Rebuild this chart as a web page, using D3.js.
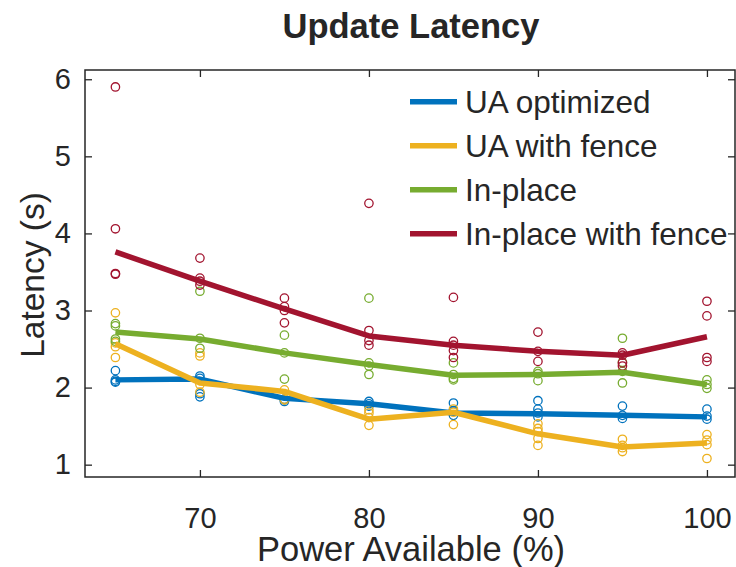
<!DOCTYPE html>
<html>
<head>
<meta charset="utf-8">
<script src="https://cdn.jsdelivr.net/npm/d3@7"></script>
<style>
  html, body { margin: 0; padding: 0; background: #fff; }
  svg { display: block; }
  text { font-family: "Liberation Sans", Arial, sans-serif; fill: #262626; }
</style>
</head>
<body>
<svg id="chart" width="736" height="567"></svg>
<script>
// Power levels tested (%)
const powerLevels = [65, 70, 75, 80, 85, 90, 95, 100];

// Individual run latencies (s), one list per power level
const uaOptimizedRuns = [
  [2.22, 2.10, 2.08, 2.07],
  [2.15, 2.12, 1.92, 1.88],
  [1.85, 1.84, 1.82],
  [1.82, 1.79, 1.76],
  [1.80, 1.70, 1.64],
  [1.83, 1.72, 1.67, 1.62],
  [1.76, 1.64, 1.60],
  [1.72, 1.63, 1.59]
];
const uaFenceRuns = [
  [2.97, 2.58, 2.53, 2.39],
  [2.45, 2.41, 2.04, 1.94],
  [1.97, 1.85, 1.84],
  [1.71, 1.67, 1.61, 1.51],
  [1.72, 1.68, 1.52],
  [1.53, 1.47, 1.43, 1.34, 1.25],
  [1.33, 1.25, 1.22, 1.17],
  [1.39, 1.32, 1.26, 1.08]
];
const inPlaceRuns = [
  [2.83, 2.80, 2.63, 2.60],
  [3.25, 2.64, 2.51],
  [2.68, 2.45, 2.11],
  [3.16, 2.32, 2.28, 2.17],
  [2.32, 2.17, 2.12, 2.10],
  [2.21, 2.18, 2.09],
  [2.64, 2.33, 2.21, 2.06],
  [2.10, 2.04, 1.99]
];
const inPlaceFenceRuns = [
  [5.90, 4.06, 3.48, 3.47],
  [3.68, 3.42, 3.38, 3.33],
  [3.16, 3.05, 3.00, 2.84],
  [4.39, 2.74, 2.61, 2.55],
  [3.17, 2.60, 2.55, 2.48, 2.39],
  [2.72, 2.47, 2.34],
  [2.45, 2.42, 2.32, 2.28],
  [3.12, 2.93, 2.39, 2.34]
];

// Summary (median) latency per power level (s)
const uaOptimizedMedian = [2.10, 2.11, 1.86, 1.79, 1.67, 1.66, 1.64, 1.62];
const uaFenceMedian     = [2.57, 2.06, 1.95, 1.59, 1.68, 1.40, 1.23, 1.28];
const inPlaceMedian     = [2.72, 2.63, 2.45, 2.30, 2.16, 2.17, 2.20, 2.04];
const inPlaceFenceMedian = [3.76, 3.38, 3.02, 2.67, 2.55, 2.47, 2.42, 2.66];

const seriesNames = ["UA optimized", "UA with fence", "In-place", "In-place with fence"];
const seriesColors = ["#0072BD", "#EDB120", "#77AC30", "#A2142F"];

const xTicks = [70, 80, 90, 100];
const yTicks = [1, 2, 3, 4, 5, 6];

const series = [
  { name: seriesNames[0], color: seriesColors[0], runs: uaOptimizedRuns, median: uaOptimizedMedian },
  { name: seriesNames[1], color: seriesColors[1], runs: uaFenceRuns, median: uaFenceMedian },
  { name: seriesNames[2], color: seriesColors[2], runs: inPlaceRuns, median: inPlaceMedian },
  { name: seriesNames[3], color: seriesColors[3], runs: inPlaceFenceRuns, median: inPlaceFenceMedian }
];

const plot = { left: 85, right: 735, top: 70, bottom: 477 };
const svg = d3.select("#chart");

const x = d3.scaleLinear().domain([63.2, 101.66]).range([plot.left, plot.right]);
const y = d3.scaleLinear().domain([0.84, 6.12]).range([plot.bottom, plot.top]);

const axisColor = "#262626";
const tickLen = 7;
const intFmt = d3.format("d");

// Axes: labelled bottom/left, unlabelled mirrored ticks on top/right
const gx = svg.append("g").attr("transform", `translate(0,${plot.bottom})`)
  .call(d3.axisBottom(x).tickValues(xTicks).tickFormat(intFmt)
    .tickSizeInner(-tickLen).tickSizeOuter(0).tickPadding(30));
const gy = svg.append("g").attr("transform", `translate(${plot.left},0)`)
  .call(d3.axisLeft(y).tickValues(yTicks).tickFormat(intFmt)
    .tickSizeInner(-tickLen).tickSizeOuter(0).tickPadding(14));
const gxt = svg.append("g").attr("transform", `translate(0,${plot.top})`)
  .call(d3.axisTop(x).tickValues(xTicks).tickSizeInner(-tickLen).tickSizeOuter(0).tickFormat(""));
const gyr = svg.append("g").attr("transform", `translate(${plot.right},0)`)
  .call(d3.axisRight(y).tickValues(yTicks).tickSizeInner(-tickLen).tickSizeOuter(0).tickFormat(""));

[gx, gy, gxt, gyr].forEach(g => {
  g.select(".domain").remove();
  g.selectAll(".tick line").attr("stroke", axisColor).attr("stroke-width", 1.3);
  g.selectAll(".tick text").attr("fill", axisColor)
    .style("font-family", '"Liberation Sans", Arial, sans-serif')
    .style("font-size", "29px");
});

// Box frame
svg.append("rect")
  .attr("x", plot.left).attr("y", plot.top)
  .attr("width", plot.right - plot.left).attr("height", plot.bottom - plot.top)
  .attr("fill", "none").attr("stroke", axisColor).attr("stroke-width", 1.5);

// Individual runs as hollow circles
series.forEach(s => {
  const pts = [];
  s.runs.forEach((vals, i) => vals.forEach(v => pts.push({ p: powerLevels[i], v })));
  svg.append("g").selectAll("circle").data(pts).join("circle")
    .attr("cx", d => x(d.p)).attr("cy", d => y(d.v)).attr("r", 4.2)
    .attr("fill", "none").attr("stroke", s.color).attr("stroke-width", 1.3);
});

// Median lines
const line = d3.line().x((d, i) => x(powerLevels[i])).y(d => y(d));
series.forEach(s => {
  svg.append("path").datum(s.median)
    .attr("d", line)
    .attr("fill", "none").attr("stroke", s.color)
    .attr("stroke-width", 5.5).attr("stroke-linejoin", "round");
});

// Legend
const legend = svg.append("g");
series.forEach((s, i) => {
  const ly = 101.7 + i * 44;
  legend.append("line")
    .attr("x1", 410).attr("x2", 457).attr("y1", ly).attr("y2", ly)
    .attr("stroke", s.color).attr("stroke-width", 5.5);
  legend.append("text")
    .attr("x", 465).attr("y", ly + 11.5)
    .style("font-size", "31.5px")
    .text(s.name);
});

// Title and axis labels
svg.append("text")
  .attr("x", 411).attr("y", 38).attr("text-anchor", "middle")
  .style("font-size", "34.5px").style("font-weight", "bold").attr("fill", "#000")
  .text("Update Latency");

svg.append("text")
  .attr("x", 411).attr("y", 561).attr("text-anchor", "middle")
  .style("font-size", "34.5px")
  .text("Power Available (%)");

svg.append("text")
  .attr("transform", "translate(44,275) rotate(-90)")
  .attr("text-anchor", "middle")
  .style("font-size", "33.5px")
  .text("Latency (s)");
</script>
</body>
</html>
